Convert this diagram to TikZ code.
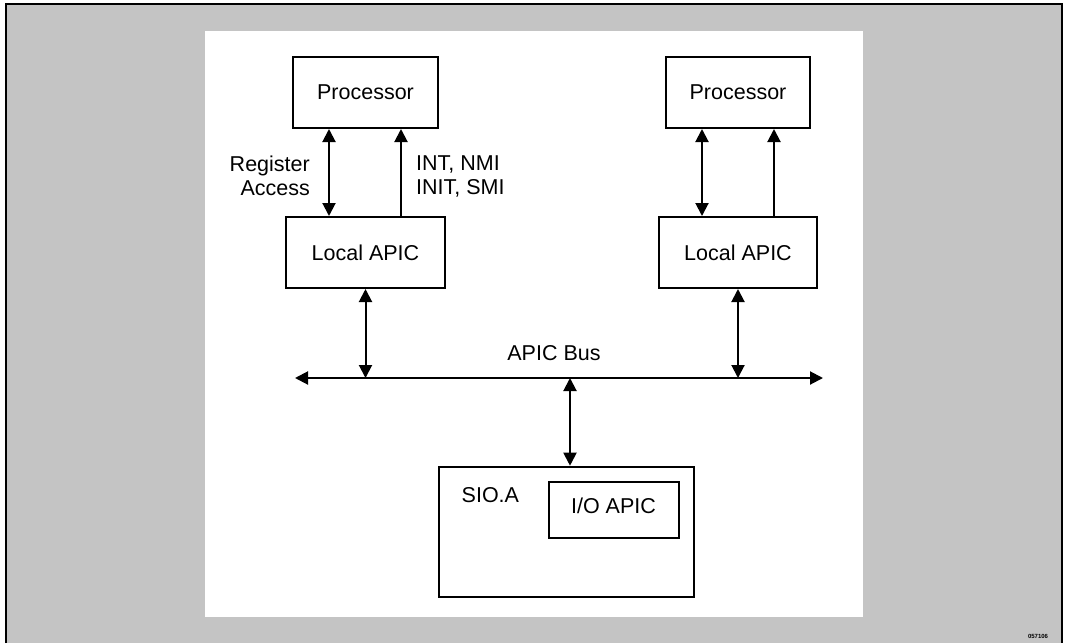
\documentclass[tikz,border=0pt]{standalone}
\usepackage{fontspec}
\setmainfont{Liberation Sans}
\usetikzlibrary{arrows.meta}
\definecolor{stipple}{RGB}{196,196,196}
\tikzset{
  box/.style={draw, line width=2pt, fill=white, inner sep=0pt, font=\fontsize{21.5}{24}\selectfont},
  lbl/.style={inner sep=0pt, font=\fontsize{21.5}{24}\selectfont},
  conn/.style={line width=2pt, -{Triangle[length=13pt,width=13pt]}},
  dconn/.style={line width=2pt, {Triangle[length=13pt,width=13pt]}-{Triangle[length=13pt,width=13pt]}},
}
\begin{document}
\begin{tikzpicture}[x=1pt,y=-1pt]
\useasboundingbox (0,0) rectangle (1066,643);
% background
\fill[stipple] (6,4) rectangle (1062,643);
\draw[line width=2.5pt] (6,643) -- (6,4) -- (1062,4) -- (1062,643);
\fill[white] (205,31) rectangle (863,617);
% boxes
\node[box, minimum width=145pt, minimum height=71pt] (p1) at (365.5,92.5) {Processor};
\node[box, minimum width=144pt, minimum height=71pt] (p2) at (738,92.5) {Processor};
\node[box, minimum width=159pt, minimum height=71pt] (l1) at (365.5,252.5) {Local APIC};
\node[box, minimum width=158pt, minimum height=71pt] (l2) at (738,252.5) {Local APIC};
\node[box, minimum width=255pt, minimum height=130pt] (sio) at (566.5,531.7) {};
\node[box, minimum width=130pt, minimum height=56pt] (io) at (613.5,510.3) {};
\node[lbl, anchor=base] (iot) at (613.5,513) {I/O APIC};
\node[lbl, anchor=base west] (siot) at (461.5,502) {SIO.A};
% labels
\node[lbl, anchor=north east, align=right] (reg) at (310,155.5) {Register\\Access};
\node[lbl, anchor=north west, align=left] (intl) at (416,155.5) {INT, NMI\\INIT, SMI};
\node[lbl, anchor=base] (bus) at (554,360) {APIC Bus};
% processor links
\draw[dconn] ([xshift=-36.5pt]l1.north) -- ([xshift=-36.5pt]p1.south);
\draw[conn] ([xshift=35.5pt]l1.north) -- ([xshift=35.5pt]p1.south);
\draw[dconn] ([xshift=-36pt]l2.north) -- ([xshift=-36pt]p2.south);
\draw[conn] ([xshift=36pt]l2.north) -- ([xshift=36pt]p2.south);
% bus
\coordinate (busL) at (295,378);
\coordinate (busR) at (823,378);
\draw[dconn] (busL) -- (busR);
\draw[dconn] (l1.south) -- (l1.south |- busL);
\draw[dconn] (l2.south) -- (l2.south |- busL);
\draw[dconn] ([xshift=3.5pt]sio.north) -- ([xshift=3.5pt]sio.north |- busL);
% figure number
\node[inner sep=0pt, font=\fontsize{6}{7}\selectfont\bfseries] (fig) at (1038,636) {057106};
\end{tikzpicture}
\end{document}
